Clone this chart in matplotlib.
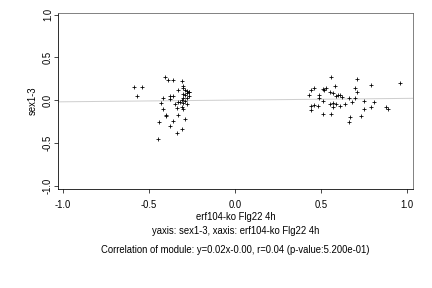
import numpy as np
import matplotlib
matplotlib.use("Agg")
from matplotlib import pyplot as plt

plt.rcParams["font.family"] = ["Liberation Sans", "DejaVu Sans"]

# points (x = erf104-ko Flg22 4h, y = sex1-3)
x_left = [-0.59, -0.54, -0.57,
          -0.41, -0.39, -0.36, -0.31, -0.30, -0.30, -0.28, -0.33, -0.38, -0.36,
          -0.42, -0.38, -0.43, -0.35, -0.42, -0.30, -0.40, -0.40, -0.33, -0.36,
          -0.29, -0.44, -0.38, -0.31, -0.34, -0.45,
          -0.28, -0.29, -0.27, -0.30, -0.28, -0.31, -0.29, -0.32, -0.30, -0.27,
          -0.28, -0.33, -0.29, -0.31, -0.34, -0.27, -0.30]
y_left = [0.15, 0.15, 0.05,
          0.27, 0.24, 0.24, 0.22, 0.16, 0.14, 0.11, 0.12, 0.05, 0.05,
          0.03, 0.01, -0.03, -0.05, -0.10, -0.11, -0.17, -0.19, -0.17, -0.24,
          -0.22, -0.26, -0.30, -0.34, -0.39, -0.45,
          0.08, 0.06, 0.05, 0.03, 0.02, 0.00, -0.01, -0.02, -0.03, 0.10,
          -0.04, -0.02, 0.12, -0.08, -0.09, 0.09, 0.07]
x_right = [0.56, 0.71, 0.96, 0.79, 0.58, 0.70, 0.46, 0.44, 0.51, 0.53, 0.52, 0.55,
           0.71, 0.57, 0.43, 0.49, 0.60, 0.61, 0.62, 0.59, 0.66, 0.70, 0.49, 0.51,
           0.75, 0.81, 0.68, 0.57, 0.55, 0.59, 0.61, 0.64, 0.44, 0.46, 0.48, 0.57,
           0.79, 0.88, 0.89, 0.44, 0.75, 0.51, 0.56, 0.73, 0.67, 0.66]
y_right = [0.27, 0.25, 0.20, 0.18, 0.17, 0.14, 0.14, 0.12, 0.13, 0.14, 0.12, 0.10,
           0.10, 0.08, 0.06, 0.06, 0.06, 0.06, 0.04, 0.05, 0.03, 0.03, 0.02, -0.01,
           -0.01, -0.02, -0.02, -0.03, -0.05, -0.05, -0.07, -0.05, -0.07, -0.06, -0.07, -0.08,
           -0.08, -0.08, -0.10, -0.12, -0.11, -0.16, -0.16, -0.19, -0.20, -0.26]

slope = 0.02
intercept = 0.0
ticks = [-1.0, -0.5, 0.0, 0.5, 1.0]
tick_labels = ["-1.0", "-0.5", "0.0", "0.5", "1.0"]

fs = 9.5

fig = plt.figure(figsize=(6, 4), dpi=72)
ax = fig.add_axes([0.134, 0.344, 0.822, 0.611])

ax.axline((0, intercept), slope=slope, color="#cfcfcf", lw=1.0, zorder=1)
ax.scatter(x_left + x_right, y_left + y_right, marker="+", s=22, c="black",
           linewidths=0.8, zorder=2)

ax.set_xlim(-1.03, 1.035)
ax.set_ylim(-1.04, 1.02)
ax.set_xticks(ticks)
ax.set_xticklabels(tick_labels)
ax.set_yticks(ticks)
ax.set_yticklabels(tick_labels, rotation=90, va="center")
ax.tick_params(direction="out", length=4, width=0.7, labelsize=fs)
ax.tick_params(axis="x", pad=7)
ax.tick_params(axis="y", pad=1)

for side in ["left", "bottom"]:
    ax.spines[side].set_color("black")
    ax.spines[side].set_linewidth(0.8)
for side in ["top", "right"]:
    ax.spines[side].set_color("#666666")
    ax.spines[side].set_linewidth(0.8)

ax.set_xlabel("erf104-ko Flg22 4h", fontsize=fs, labelpad=2)
ax.set_ylabel("sex1-3", fontsize=fs, labelpad=5)

fig.text(0.545, 1 - 231 / 288, "yaxis: sex1-3, xaxis: erf104-ko Flg22 4h",
         ha="center", va="center", fontsize=fs)
fig.text(0.545, 1 - 250 / 288,
         "Correlation of module: y=0.02x-0.00, r=0.04 (p-value:5.200e-01)",
         ha="center", va="center", fontsize=fs)

fig.savefig("out.png", dpi=72)
